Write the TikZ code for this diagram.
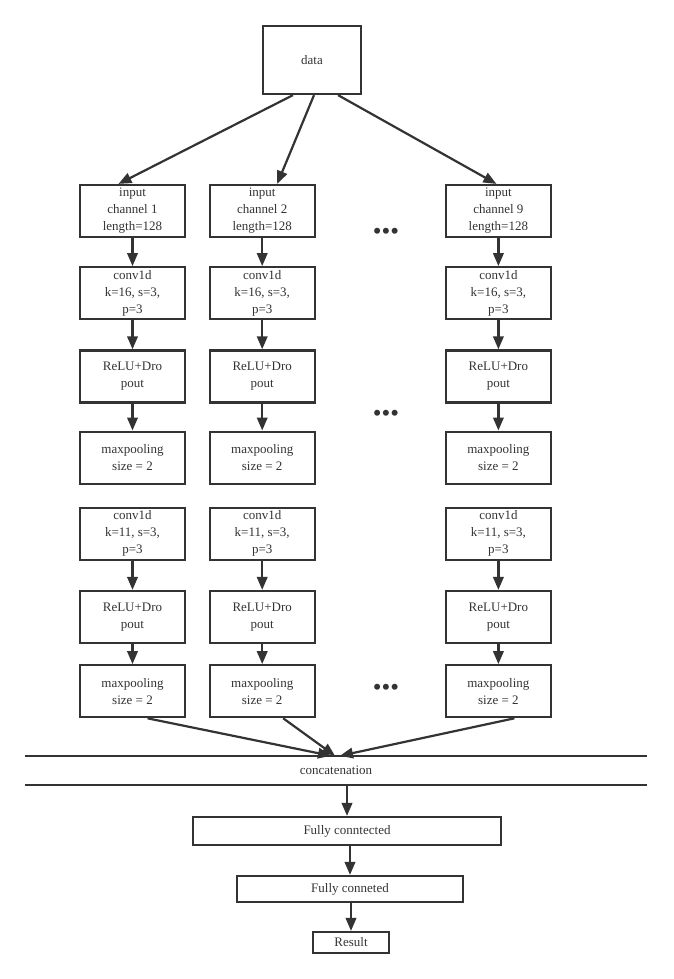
\documentclass[tikz,border=0pt]{standalone}
\usepackage{fontspec}
\setmainfont{Liberation Serif}
\usetikzlibrary{arrows.meta,positioning}
\definecolor{linegray}{HTML}{333333}
\tikzset{
	layerbox/.style={draw=linegray, line width=2.2pt, align=center, minimum width=105pt, minimum height=52pt, inner sep=1pt, text=linegray, font=\fontsize{13}{17}\selectfont},
	widebox/.style={draw=linegray, line width=2.2pt, align=center, inner sep=0pt, text=linegray, font=\fontsize{13}{17}\selectfont},
	flow/.style={-{Triangle[length=13pt,width=10.5pt]}, line width=2.2pt, draw=linegray},
	bar/.style={line width=2.2pt, draw=linegray},
	dots/.style={text=linegray, font=\fontsize{25}{25}\selectfont, inner sep=0pt}
}

\begin{document}
\begin{tikzpicture}[x=1pt, y=-1pt, node distance=29pt and 22.5pt]
	\useasboundingbox (0,0) rectangle (674,979);
	\node[widebox, minimum width=98pt, minimum height=68pt] (data) at (312,60) {data};
	% column 1
	\node[layerbox] (input1) at (132.5,211) {input\\channel 1\\length=128};
	\node[layerbox, below=28pt of input1] (conva1) {conv1d\\k=16, s=3,\\p=3};
	\node[layerbox, below=of conva1] (relua1) {ReLU+Dro\\pout};
	\node[layerbox, below=27pt of relua1] (poola1) {maxpooling\\size = 2};
	\node[layerbox, below=22pt of poola1] (convb1) {conv1d\\k=11, s=3,\\p=3};
	\node[layerbox, below=of convb1] (relub1) {ReLU+Dro\\pout};
	\node[layerbox, below=20pt of relub1] (poolb1) {maxpooling\\size = 2};
	% column 2
	\node[layerbox, right=of input1] (input2) {input\\channel 2\\length=128};
	\node[layerbox, right=of conva1] (conva2) {conv1d\\k=16, s=3,\\p=3};
	\node[layerbox, right=of relua1] (relua2) {ReLU+Dro\\pout};
	\node[layerbox, right=of poola1] (poola2) {maxpooling\\size = 2};
	\node[layerbox, right=of convb1] (convb2) {conv1d\\k=11, s=3,\\p=3};
	\node[layerbox, right=of relub1] (relub2) {ReLU+Dro\\pout};
	\node[layerbox, right=of poolb1] (poolb2) {maxpooling\\size = 2};
	% column 9
	\node[layerbox, right=129pt of input2] (input3) {input\\channel 9\\length=128};
	\node[layerbox, right=129pt of conva2] (conva3) {conv1d\\k=16, s=3,\\p=3};
	\node[layerbox, right=129pt of relua2] (relua3) {ReLU+Dro\\pout};
	\node[layerbox, right=129pt of poola2] (poola3) {maxpooling\\size = 2};
	\node[layerbox, right=129pt of convb2] (convb3) {conv1d\\k=11, s=3,\\p=3};
	\node[layerbox, right=129pt of relub2] (relub3) {ReLU+Dro\\pout};
	\node[layerbox, right=129pt of poolb2] (poolb3) {maxpooling\\size = 2};
	% dots
	\node[dots] (dotsa) at (386,234) {•••};
	\node[dots] (dotsb) at (386,416) {•••};
	\node[dots] (dotsc) at (386,690) {•••};
	% merge and dense layers
	\node[minimum width=622pt, minimum height=29pt, inner sep=0pt, text=linegray, font=\fontsize{13}{17}\selectfont] (concat) at (336,770.5) {concatenation};
	\draw[bar] (concat.north west) -- (concat.north east);
	\draw[bar] (concat.south west) -- (concat.south east);
	\node[widebox, minimum width=308pt, minimum height=28pt] (fc1) at (347,831) {Fully conntected};
	\node[widebox, minimum width=226pt, minimum height=26pt] (fc2) at (350,889) {Fully conneted};
	\node[widebox, minimum width=76pt, minimum height=21pt] (result) at (351,942.5) {Result};
	% arrows
	\draw[flow] ([xshift=-19pt]data.south) -- ([xshift=-14pt]input1.north);
	\draw[flow] ([xshift=2pt]data.south) -- ([xshift=15pt]input2.north);
	\draw[flow] ([xshift=26pt]data.south) -- ([xshift=-2pt]input3.north);
	\draw[flow] (input1) -- (conva1);
	\draw[flow] (conva1) -- (relua1);
	\draw[flow] (relua1) -- (poola1);
	\draw[flow] (convb1) -- (relub1);
	\draw[flow] (relub1) -- (poolb1);
	\draw[flow] (input2) -- (conva2);
	\draw[flow] (conva2) -- (relua2);
	\draw[flow] (relua2) -- (poola2);
	\draw[flow] (convb2) -- (relub2);
	\draw[flow] (relub2) -- (poolb2);
	\draw[flow] (input3) -- (conva3);
	\draw[flow] (conva3) -- (relua3);
	\draw[flow] (relua3) -- (poola3);
	\draw[flow] (convb3) -- (relub3);
	\draw[flow] (relub3) -- (poolb3);
	\draw[flow] ([xshift=15pt]poolb1.south) -- ([xshift=-5pt]concat.north);
	\draw[flow] ([xshift=21pt]poolb2.south) -- ([xshift=-1pt]concat.north);
	\draw[flow] ([xshift=16pt]poolb3.south) -- ([xshift=4pt]concat.north);
	\draw[flow] (concat.south -| fc1.north) -- (fc1.north);
	\draw[flow] (fc1.south -| fc2.north) -- (fc2.north);
	\draw[flow] (fc2.south -| result.north) -- (result.north);
\end{tikzpicture}
\end{document}
